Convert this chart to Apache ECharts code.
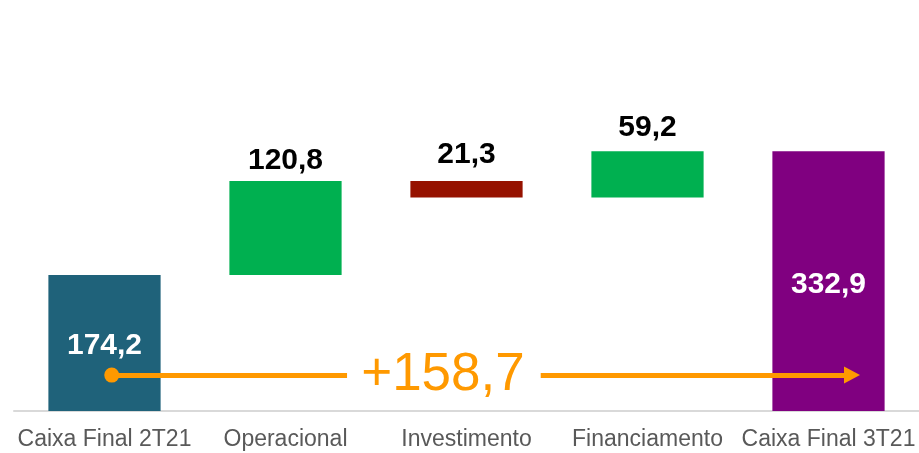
<!DOCTYPE html>
<html>
<head>
<meta charset="utf-8">
<script src="https://cdn.jsdelivr.net/npm/echarts@6/dist/echarts.min.js"></script>
<style>
  html, body { margin: 0; padding: 0; background: #fff; }
  #chart { width: 919px; height: 453px; }
</style>
</head>
<body>
<div id="chart"></div>
<script>
const categories = ["Caixa Final 2T21", "Operacional", "Investimento", "Financiamento", "Caixa Final 3T21"];
// first and last are totals, the middle ones are movements
const values = [174.2, 120.8, -21.3, 59.2, 332.9];
const barColors = ["#1F627A", "#00B050", "#961200", "#00B050", "#800080"];
const labelDistances = [0, 5, 11, 9, 118];

// arrow: runs from the first total to the last one (x in category units)
const arrowLevel = 46;
const arrowStart = 0.04;
const arrowGapStart = 1.34;
const arrowGapEnd = 2.41;
const arrowEnd = 4.13;
const arrowTextX = 1.87;

const FONT = "Arial, 'Liberation Sans', sans-serif";

function fmt(v) {
  return Math.abs(v).toFixed(1).replace(".", ",");
}

// build waterfall base / height
const baseData = [];
const barData = [];
let running = 0;
values.forEach((v, i) => {
  const isTotal = i === 0 || i === values.length - 1;
  let base, height;
  if (isTotal) {
    base = 0;
    height = v;
    running = v;
  } else if (v >= 0) {
    base = running;
    height = v;
    running += v;
  } else {
    running += v;
    base = running;
    height = -v;
  }
  baseData.push(base);
  barData.push({
    value: height,
    itemStyle: { color: barColors[i] },
    label: {
      position: i === 0 ? "inside" : isTotal ? "insideTop" : "top",
      distance: labelDistances[i],
      offset: i === 0 ? [0, 3] : [0, 0],
      color: isTotal ? "#FFFFFF" : "#000000",
    },
  });
});

const delta = values[values.length - 1] - values[0];
const orange = "#FF9900";

const chart = echarts.init(document.getElementById("chart"));

chart.setOption({
  animation: false,
  grid: { left: 14, right: 0, top: 21, bottom: 42 },
  xAxis: [
    {
      type: "category",
      data: categories,
      axisLine: { lineStyle: { color: "#D9D9D9", width: 2 } },
      axisTick: { show: false },
      axisLabel: {
        color: "#595959",
        fontSize: 23,
        fontFamily: FONT,
        margin: 17,
        interval: 0,
      },
    },
    { type: "value", min: -0.5, max: 4.5, show: false },
  ],
  yAxis: {
    type: "value",
    min: 0,
    max: 500,
    show: false,
    splitLine: { show: false },
  },
  series: [
    {
      type: "bar",
      stack: "wf",
      data: baseData,
      itemStyle: { color: "transparent" },
      barCategoryGap: "38%",
      silent: true,
    },
    {
      type: "bar",
      stack: "wf",
      data: barData,
      barCategoryGap: "38%",
      label: {
        show: true,
        fontSize: 30,
        fontWeight: "bold",
        fontFamily: FONT,
        formatter: (p) => fmt(values[p.dataIndex]),
      },
    },
    {
      type: "scatter",
      xAxisIndex: 1,
      data: [[arrowStart, arrowLevel]],
      symbolSize: 15,
      itemStyle: { color: orange, opacity: 1 },
      z: 5,
      markLine: {
        silent: true,
        animation: false,
        lineStyle: { color: orange, width: 5, type: "solid", opacity: 1 },
        label: { show: false },
        data: [
          [
            { coord: [arrowStart, arrowLevel], symbol: "none" },
            { coord: [arrowGapStart, arrowLevel], symbol: "none" },
          ],
          [
            { coord: [arrowGapEnd, arrowLevel], symbol: "none" },
            { coord: [arrowEnd, arrowLevel], symbol: "triangle", symbolSize: [17, 16] },
          ],
        ],
      },
      markPoint: {
        silent: true,
        symbol: "circle",
        symbolSize: 0,
        data: [{ coord: [arrowTextX, arrowLevel] }],
        label: {
          show: true,
          position: "inside",
          color: orange,
          fontSize: 53,
          fontFamily: FONT,
          formatter: () => "+" + fmt(delta),
        },
      },
    },
  ],
});
</script>
</body>
</html>
